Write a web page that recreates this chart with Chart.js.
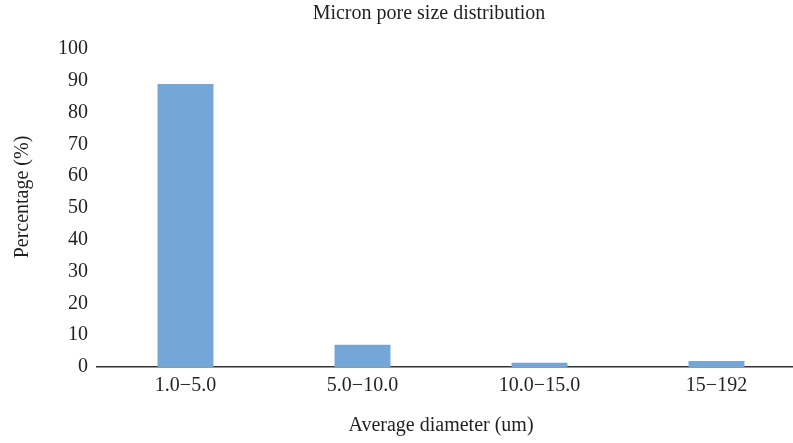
<!DOCTYPE html>
<html>
<head>
<meta charset="utf-8">
<script src="https://cdn.jsdelivr.net/npm/chart.js@4/dist/chart.umd.min.js"></script>
<style>
    html, body { margin: 0; padding: 0; background: #fff; overflow: hidden; }
    /* plot runs past the right edge in the reference, so the canvas is a bit wider than the window */
    #wrap { width: 805px; height: 443px; }
</style>
</head>
<body>
<div id="wrap"><canvas id="chartId"></canvas></div>
<script>
// Categories and values
const categories = ['1.0\u22125.0', '5.0\u221210.0', '10.0\u221215.0', '15\u2212192'];
const percentages = [89, 7, 1.3, 1.9];
const yTicks = [0, 10, 20, 30, 40, 50, 60, 70, 80, 90, 100];

const chartTitle = 'Micron pore size distribution';
const xTitle = 'Average diameter (um)';
const yTitle = 'Percentage (%)';

const textColor = '#231f20';
const serif = 'Liberation Serif, Times New Roman, serif';

// Titles sit slightly off the library's centred spots, so draw them here
const titlesPlugin = {
    id: 'titles',
    afterDraw(chart) {
        const ctx = chart.ctx;
        ctx.save();
        ctx.fillStyle = textColor;
        ctx.font = '20px ' + serif;
        ctx.textAlign = 'center';
        ctx.textBaseline = 'middle';
        ctx.fillText(chartTitle, 429, 14);
        ctx.fillText(xTitle, 441, 426);
        ctx.translate(23, 197);
        ctx.rotate(-Math.PI / 2);
        ctx.fillText(yTitle, 0, 0);
        ctx.restore();
    }
};

let canvasElement = document.getElementById('chartId').getContext('2d');

const chart = new Chart(canvasElement, {
    type: 'bar',
    data: {
        labels: categories,
        datasets: [
            {
                label: 'Percentage',
                data: percentages,
                backgroundColor: '#74a6d7',
                borderWidth: 0,
                categoryPercentage: 1,
                barPercentage: 0.316
            }
        ]
    },
    options: {
        responsive: true,
        maintainAspectRatio: false,
        animation: false,
        layout: {
            padding: { left: 0, right: 0, top: 49, bottom: 0 }
        },
        plugins: {
            legend: { display: false },
            tooltip: { enabled: false },
            title: { display: false }
        },
        scales: {
            x: {
                grid: { display: false, drawTicks: false },
                border: { display: true, color: '#333', width: 1.5 },
                ticks: {
                    color: textColor,
                    font: { family: serif, size: 20 },
                    padding: 7,
                    maxRotation: 0
                },
                afterFit: (scale) => { scale.height = 76; }
            },
            y: {
                min: 0,
                max: 100,
                grid: { display: false, drawTicks: false },
                border: { display: false },
                afterBuildTicks: (scale) => { scale.ticks = yTicks.map(v => ({ value: v })); },
                ticks: {
                    color: textColor,
                    font: { family: serif, size: 20 },
                    padding: 9
                },
                afterFit: (scale) => { scale.width = 97; }
            }
        }
    },
    plugins: [titlesPlugin]
});
</script>
</body>
</html>
